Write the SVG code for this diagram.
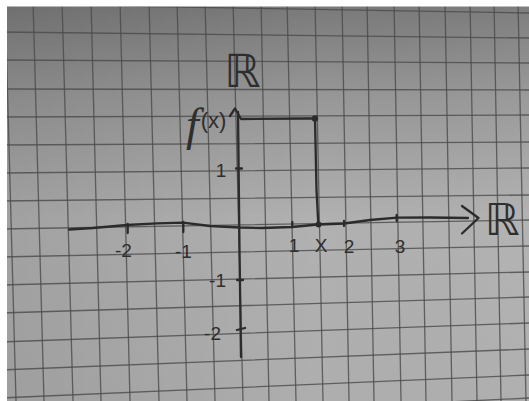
<svg xmlns="http://www.w3.org/2000/svg" width="529" height="401" viewBox="0 0 529 401">
  <defs>
    <linearGradient id="paper" x1="0" y1="0" x2="0" y2="1">
      <stop offset="0" stop-color="#787878"/>
      <stop offset="0.25" stop-color="#989898"/>
      <stop offset="0.55" stop-color="#b1b1b1"/>
      <stop offset="1" stop-color="#aeaeae"/>
    </linearGradient>
    <linearGradient id="shade" x1="0" y1="0" x2="1" y2="0">
      <stop offset="0" stop-color="#000" stop-opacity="0.09"/>
      <stop offset="0.6" stop-color="#000" stop-opacity="0"/>
      <stop offset="1" stop-color="#fff" stop-opacity="0.03"/>
    </linearGradient>
  </defs>
  <style>
    .grid { stroke: #4a4a4a; stroke-width: 1.3; fill: none; stroke-opacity: 0.8; }
    .ink { stroke: #2b2b2b; stroke-width: 2.3; fill: none; stroke-linecap: round; stroke-linejoin: round; }
    .lbl { font-family: "DejaVu Sans", "Liberation Sans", sans-serif; fill: #2e2e2e; }
    .num { font-family: "Liberation Sans", "DejaVu Sans", sans-serif; fill: #2e2e2e; font-size: 19px; }
  </style>

  <g id="paper-bg">
    <rect x="0" y="0" width="529" height="401" fill="url(#paper)"/>
    <rect x="0" y="0" width="529" height="401" fill="url(#shade)"/>
  </g>

  <g id="grid" class="grid">
    <path d="M5,0 L16,401 M33,0 L44,401 M62,0 L73,401 M91,0 L101,401 M120,0 L130,401 M149,0 L159,401 M177,0 L187,401 M205,0 L215,401 M233,0 L243,401 M261,0 L269,401 M287,0 L296,401 M315,0 L323,401 M342,0 L349,401 M367,0 L374,401 M394,0 L401,401 M419,0 L426,401 M445,0 L452,401 M470,0 L477,401 M494,0 L501,401 M518,0 L526,401"/>
    <path d="M0,4 L529,13 M0,32 L529,38 M0,60 L529,63 M0,89 L529,90 M0,117 L529,115 M0,145 L529,142 M0,173 L529,168 M0,201 L529,195 M0,229 L529,220 M0,257 L529,246 M0,285 L529,272 M0,313 L529,297 M0,342 L529,323 M0,370 L529,349 M0,398 L529,375 M0,424 L529,398"/>
  </g>

  <g id="margin">
    <rect x="0" y="0" width="529" height="6.5" fill="#ffffff"/>
    <rect x="0" y="0" width="7" height="401" fill="#ffffff"/>
  </g>

  <g id="connectors">
    <g id="x-axis" class="ink">
      <path d="M69,229.5 L93,228 L127,225 L157,223.3 L183,222.7 L210,226 L240,227.5 L262,228 L292,227 L318,224.5 L344,223.5 L370,220 L397,217.7 L430,217.5 L468,218"/>
      <path d="M462,206 L478.5,218 L462,233.5"/>
      <path d="M127.7,224 L127.7,233 M183.3,222 L183.3,232 M292.3,222 L292.3,227 M344,221 L344,226 M396.7,215 L396.7,221"/>
    </g>
    <g id="y-axis" class="ink">
      <path d="M238,112 L239.5,250 L241,357"/>
      <path d="M236,168.5 L242,168.5 M237,280 L243,280 M237,330 L245,328"/>
    </g>
    <g id="fx-lines" class="ink">
      <path d="M230,116 L235,108.5 L241,119 L306,118.5 L315,118.5"/>
      <path d="M315,119 L316.5,190 L318.3,224.5"/>
      <circle cx="315" cy="118.5" r="3.2" fill="#2b2b2b" stroke="none"/>
      <circle cx="318.5" cy="224.5" r="3" fill="#2b2b2b" stroke="none"/>
    </g>
  </g>

  <g id="labels">
    <text id="lbl-R-top" class="lbl" x="224" y="87" font-size="46">ℝ</text>
    <text id="lbl-R-right" class="lbl" x="485" y="235" font-size="44">ℝ</text>
    <text id="lbl-fx" x="186" y="140" font-family="Liberation Serif, serif" font-style="italic" fill="#2e2e2e"><tspan font-size="46">f</tspan><tspan font-size="22" font-style="normal" font-family="Liberation Sans, sans-serif" dx="2" dy="-12">(x)</tspan></text>
    <text class="num" x="221" y="177" text-anchor="middle" font-size="21">1</text>
    <text class="num" x="226" y="287" text-anchor="end">-1</text>
    <text class="num" x="221" y="340" text-anchor="end" font-size="21">-2</text>
    <text class="num" x="115" y="257">-2</text>
    <text class="num" x="175" y="258">-1</text>
    <text class="num" x="294" y="252" text-anchor="middle">1</text>
    <text class="num" x="321" y="252" text-anchor="middle" font-size="23">X</text>
    <text class="num" x="349" y="253" text-anchor="middle">2</text>
    <text class="num" x="400" y="253" text-anchor="middle">3</text>
  </g>
</svg>
